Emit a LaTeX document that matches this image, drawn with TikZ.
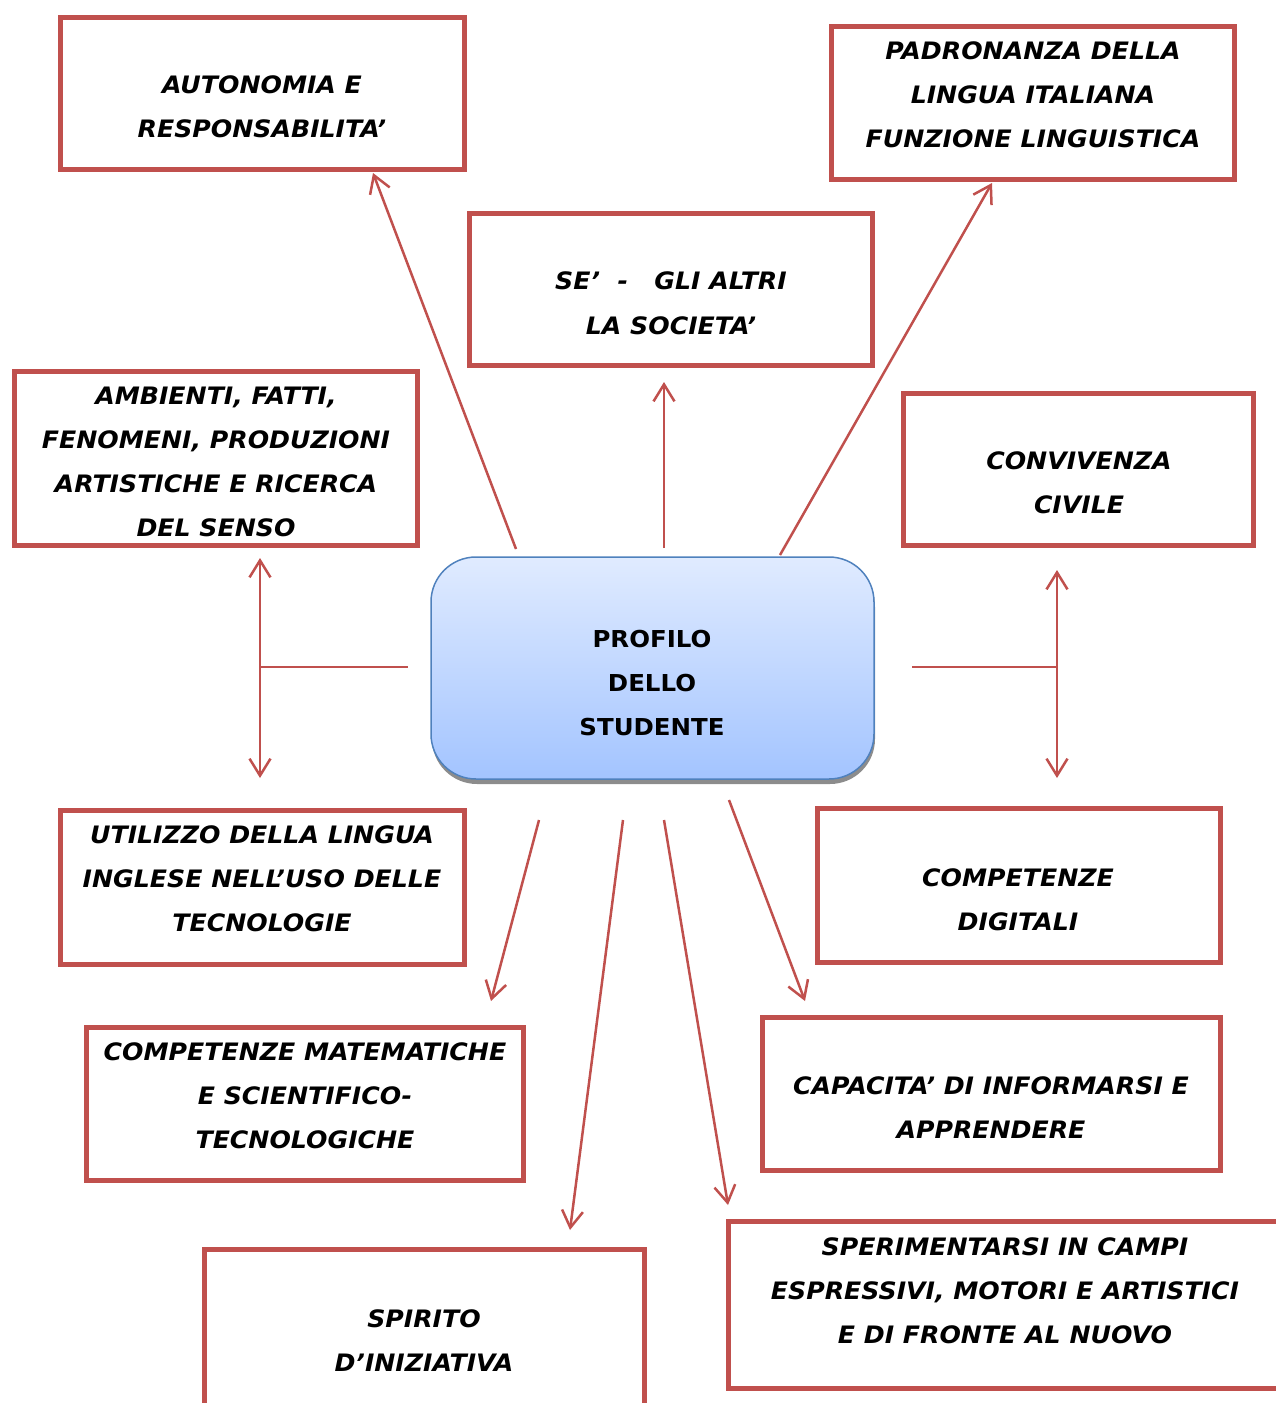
\documentclass[tikz,border=0pt]{standalone}
\usepackage{fontspec}
\setmainfont{DejaVu Sans}
\newfontfamily\boxfont[FakeStretch=1.05]{DejaVu Sans}
\usetikzlibrary{arrows.meta,shadows}
\definecolor{redb}{RGB}{192,80,77}
\definecolor{blueb}{RGB}{79,129,189}
\definecolor{topb}{RGB}{224,235,255}
\definecolor{botb}{RGB}{163,196,255}
\begin{document}
\begin{tikzpicture}[x=1pt,y=-1pt,
  box/.style={draw=redb, line width=5.5pt, fill=white, inner sep=0pt},
  txt/.style={font=\boxfont\fontsize{24}{44}\selectfont\bfseries\itshape, align=center, inner sep=0pt},
  ctxt/.style={font=\boxfont\fontsize{23.3}{44}\selectfont\bfseries, align=center, inner sep=0pt},
  con/.style={draw=redb, line width=2.5pt, -{Straight Barb[length=17pt,width=21pt]}},
  bicon/.style={draw=redb, line width=2.5pt, {Straight Barb[length=17pt,width=21pt]}-{Straight Barb[length=17pt,width=21pt]}},
  plain/.style={draw=redb, line width=2pt}]
\useasboundingbox (0,0) rectangle (1276,1403);

% boxes
\node[box, minimum width=404pt, minimum height=152pt] (auto) at (262.5,93.5) {};
\node[txt] (autot) at (262,107) {AUTONOMIA E\\RESPONSABILITA’};

\node[box, minimum width=403pt, minimum height=153pt] (padr) at (1033,103) {};
\node[txt] (padrt) at (1033,95) {PADRONANZA DELLA\\LINGUA ITALIANA\\FUNZIONE LINGUISTICA};

\node[box, minimum width=403pt, minimum height=152pt] (se) at (671,289.5) {};
\node[txt, font=\boxfont\fontsize{24}{45}\selectfont\bfseries\itshape] (set) at (671,303.5) {SE’\ \ -\ \ \ GLI ALTRI\\LA SOCIETA’};

\node[box, minimum width=403pt, minimum height=174pt] (amb) at (216,458.5) {};
\node[txt] (ambt) at (216,461.5) {AMBIENTI, FATTI,\\FENOMENI, PRODUZIONI\\ARTISTICHE E RICERCA\\DEL SENSO};

\node[box, minimum width=350pt, minimum height=152pt] (conv) at (1078.5,469.5) {};
\node[txt] (convt) at (1079,483) {CONVIVENZA\\CIVILE};

\node[draw=blueb, line width=1.5pt, rounded corners=45pt, top color=topb, bottom color=botb,
  minimum width=443pt, minimum height=222pt, inner sep=0pt,
  drop shadow={shadow xshift=1pt, shadow yshift=-5pt, fill=black!45, opacity=1}] (cen) at (652.5,668) {};
\node[ctxt] (cent) at (652,683) {PROFILO\\DELLO\\STUDENTE};

\node[box, minimum width=404pt, minimum height=154pt] (util) at (262.5,887.5) {};
\node[txt] (utilt) at (262,879) {UTILIZZO DELLA LINGUA\\INGLESE NELL’USO DELLE\\TECNOLOGIE};

\node[box, minimum width=403pt, minimum height=154pt] (dig) at (1019,885.5) {};
\node[txt] (digt) at (1018,899.5) {COMPETENZE\\DIGITALI};

\node[box, minimum width=437pt, minimum height=153pt] (mat) at (305,1104) {};
\node[txt] (matt) at (305,1096) {COMPETENZE MATEMATICHE\\E SCIENTIFICO-\\TECNOLOGICHE};

\node[box, minimum width=458pt, minimum height=153pt] (cap) at (991.5,1094) {};
\node[txt] (capt) at (991,1108) {CAPACITA’ DI INFORMARSI E\\APPRENDERE};

\node[box, minimum width=440pt, minimum height=168pt] (spir) at (424.5,1333.5) {};
\node[txt] (spirt) at (424,1340.5) {SPIRITO\\D’INIZIATIVA};

\node[box, minimum width=561pt, minimum height=167pt] (sper) at (1009,1305) {};
\node[txt] (spert) at (1005,1291) {SPERIMENTARSI IN CAMPI\\ESPRESSIVI, MOTORI E ARTISTICI\\E DI FRONTE AL NUOVO};

% connector end points
\coordinate (s1) at (516,549);  \coordinate (e1) at (373,173);
\coordinate (s2) at (664,548);  \coordinate (e2) at (664,382);
\coordinate (s3) at (780,555);  \coordinate (e3) at (992,183);
\coordinate (l1) at (260,558);  \coordinate (l2) at (260,778);
\coordinate (lj) at (260,667);  \coordinate (lc) at (408,667);
\coordinate (r1) at (1057,570); \coordinate (r2) at (1057,778);
\coordinate (rj) at (1057,667); \coordinate (rc) at (912,667);
\coordinate (s4) at (539,820);  \coordinate (e4) at (491,1001);
\coordinate (s5) at (623,820);  \coordinate (e5) at (570,1230);
\coordinate (s6) at (664,820);  \coordinate (e6) at (728,1205);
\coordinate (s7) at (729,800);  \coordinate (e7) at (805,1001);

\draw[con] (s1) -- (e1);
\draw[con] (s2) -- (e2);
\draw[con] (s3) -- (e3);
\draw[bicon] (l1) -- (l2);
\draw[plain] (lj) -- (lc);
\draw[bicon] (r1) -- (r2);
\draw[plain] (rc) -- (rj);
\draw[con] (s4) -- (e4);
\draw[con] (s5) -- (e5);
\draw[con] (s6) -- (e6);
\draw[con] (s7) -- (e7);
\end{tikzpicture}
\end{document}
